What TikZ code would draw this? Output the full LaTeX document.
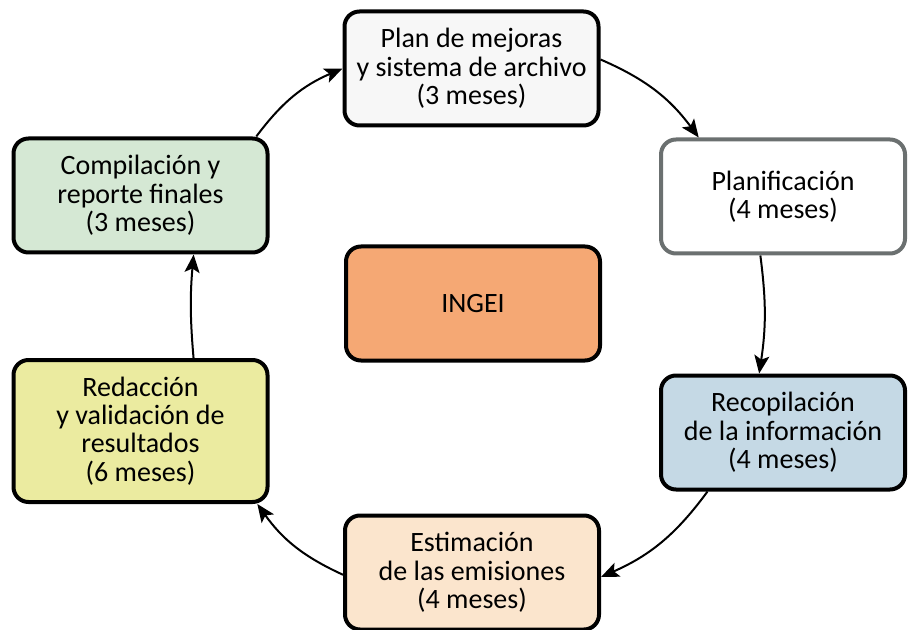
\documentclass[tikz,border=0pt]{standalone}
\usepackage{fontspec}
\setmainfont{Carlito}
\usetikzlibrary{arrows.meta}

\definecolor{planfill}{HTML}{F7F7F7}
\definecolor{planifdraw}{HTML}{6B7070}
\definecolor{ingeifill}{HTML}{F5A874}
\definecolor{recopfill}{HTML}{C5D9E5}
\definecolor{estimfill}{HTML}{FBE5CD}
\definecolor{redacfill}{HTML}{EBEBA0}
\definecolor{compilfill}{HTML}{D5E8D4}

\begin{document}
\begin{tikzpicture}
  [x=0.5pt,y=-0.5pt,
   every node/.style={draw,line width=2pt,rounded corners=7.5pt,align=center,
     minimum width=127pt,minimum height=57pt,inner sep=1pt,
     font=\fontsize{14}{14.2}\selectfont},
   arr/.style={line width=1pt,-{Stealth[length=9pt,width=7.5pt,inset=2pt]}}]
  \useasboundingbox (0,0) rectangle (908,630);

  \node[fill=planfill] (plan) at (471.5,68.5) {Plan de mejoras\\y sistema de archivo\\(3 meses)};
  \node[draw=planifdraw,fill=white,minimum width=122pt] (planif) at (783,196.5) {Planificación\\(4 meses)};
  \node[fill=ingeifill] (ingei) at (473,303.5) {INGEI};
  \node[fill=recopfill,minimum width=122pt] (recop) at (783,432.5) {Recopilación\\de la información\\(4 meses)};
  \node[fill=estimfill] (estim) at (472,572.5) {Estimación\\de las emisiones\\(4 meses)};
  \node[fill=redacfill,minimum height=71pt] (redac) at (140.5,431) {Redacción\\y validación de\\resultados\\(6 meses)};
  \node[fill=compilfill] (compil) at (140.5,195.5) {Compilación y\\reporte finales\\(3 meses)};

  \foreach \from/\to/\b in {plan.4/planif.145/15,planif.249/recop.112/8,
      recop.218/estim.-2/15,estim.181/redac.328/15,redac.54/compil.312/5,
      compil.27/plan.180/15}
    \draw[arr] (\from) to[bend left=\b] (\to);

\end{tikzpicture}
\end{document}
